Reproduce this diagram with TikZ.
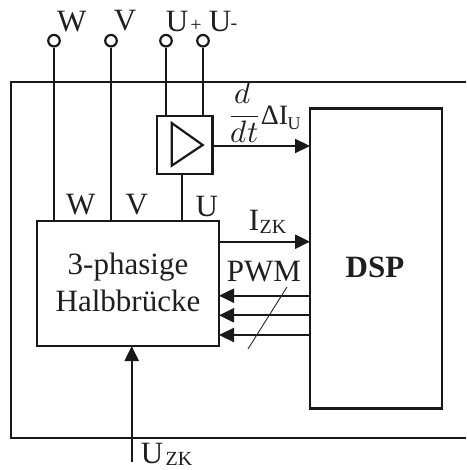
\documentclass[tikz,border=0pt]{standalone}
\usepackage{fontspec}
\usepackage{unicode-math}
\setmainfont{Liberation Serif}
\setmathfont{Latin Modern Math}
\usetikzlibrary{arrows.meta}
\tikzset{
  x=1pt,y=-1pt,
  ln/.style={line width=2.2pt,draw=black!90},
  arr/.style={ln,-{Triangle[length=15pt,width=14pt]}},
  term/.style={circle,draw=black!90,line width=2.2pt,minimum size=11.5pt,inner sep=0pt,fill=white},
  box/.style={rectangle,ln,inner sep=0pt,anchor=north west,outer sep=0pt},
  lbl/.style={font=\fontsize{31}{31}\selectfont,inner sep=0pt,text=black!88},
  sub/.style={font=\fontsize{20}{20}\selectfont,inner sep=0pt,text=black!88}
}
\begin{document}
\begin{tikzpicture}
\useasboundingbox (0,0) rectangle (466,470);
\draw[ln] (466,82) -- (11,82) -- (11,438) -- (466,438);
\node[box,minimum width=132pt,minimum height=300pt,fill=white] (dsp) at (310,108.5) {};
\node[box,minimum width=55.5pt,minimum height=58.3pt] (amp) at (157,115.7) {};
\node[box,minimum width=182.3pt,minimum height=125pt] (hb) at (36.7,221) {};
\node[term] (tw) at (54,40.7) {};
\node[term] (tv) at (111,40.7) {};
\node[term] (tp) at (166,40.7) {};
\node[term] (tm) at (203,40.7) {};
\draw[ln] (tw) -- (tw |- hb.north);
\draw[ln] (tv) -- (tv |- hb.north);
\draw[ln] (tp) -- (tp |- amp.north);
\draw[ln] (tm) -- (tm |- amp.north);
\coordinate (au) at (182.3,174);
\draw[ln] (au) -- (au |- hb.north);
\draw[ln,line join=miter] (171.7,123) -- (202.7,145) -- (171.7,165.7) -- cycle;
\draw[arr] (amp.east |- 0,146) -- (dsp.west |- 0,146);
\draw[arr] (hb.east |- 0,241.7) -- (dsp.west |- 0,241.7);
\draw[arr] (dsp.west |- 0,295.7) -- (hb.east |- 0,295.7);
\draw[arr] (dsp.west |- 0,315.3) -- (hb.east |- 0,315.3);
\draw[arr] (dsp.west |- 0,335) -- (hb.east |- 0,335);
\draw[line width=0.9pt,draw=black!85] (287,287) -- (248,349);
\coordinate (uz) at (131.7,461.7);
\draw[arr] (uz) -- (uz |- hb.south);
\node[lbl,anchor=base] (n1) at (71.7,31.5) {W};
\node[lbl,anchor=base] (n2) at (125,31) {V};
\node[lbl,anchor=base] (n3) at (177,31.5) {U};
\node[sub,anchor=base] (n4) at (196,31.5) {+};
\node[lbl,anchor=base] (n5) at (220,31.5) {U};
\node[sub,anchor=base] (n6) at (234,30) {-};
\node[lbl,anchor=base] (n7) at (80.7,214) {W};
\node[lbl,anchor=base] (n8) at (136.7,214) {V};
\node[lbl,anchor=base] (n9) at (206.7,216.5) {U};
\node[lbl,anchor=base] (n10) at (254,230) {I};
\node[sub,anchor=base] (n11) at (273,233) {ZK};
\node[lbl,anchor=base] (n12) at (264,281.5) {PWM};
\node[lbl,anchor=base] (n13) at (128,274) {3-phasige};
\node[lbl,anchor=base] (n14) at (128,311) {Halbbrücke};
\node[lbl,anchor=base,font=\fontsize{31}{31}\bfseries\selectfont] (n15) at (375,277) {DSP};
\node[lbl,anchor=base] (n16) at (152,463.5) {U};
\node[sub,anchor=base] (n17) at (179,465.5) {ZK};
\node[lbl,anchor=base] (n18) at (243,104) {$d$};
\draw[line width=1.6pt,draw=black!88] (230.7,116.7) -- (258,116.7);
\node[lbl,anchor=base] (n19) at (244.5,142.7) {$dt$};
\node[lbl,anchor=base,font=\fontsize{28}{28}\selectfont] (n20) at (274.5,125) {ΔI};
\node[sub,anchor=base,font=\fontsize{18}{18}\selectfont] (n21) at (294,130) {U};
\end{tikzpicture}
\end{document}
